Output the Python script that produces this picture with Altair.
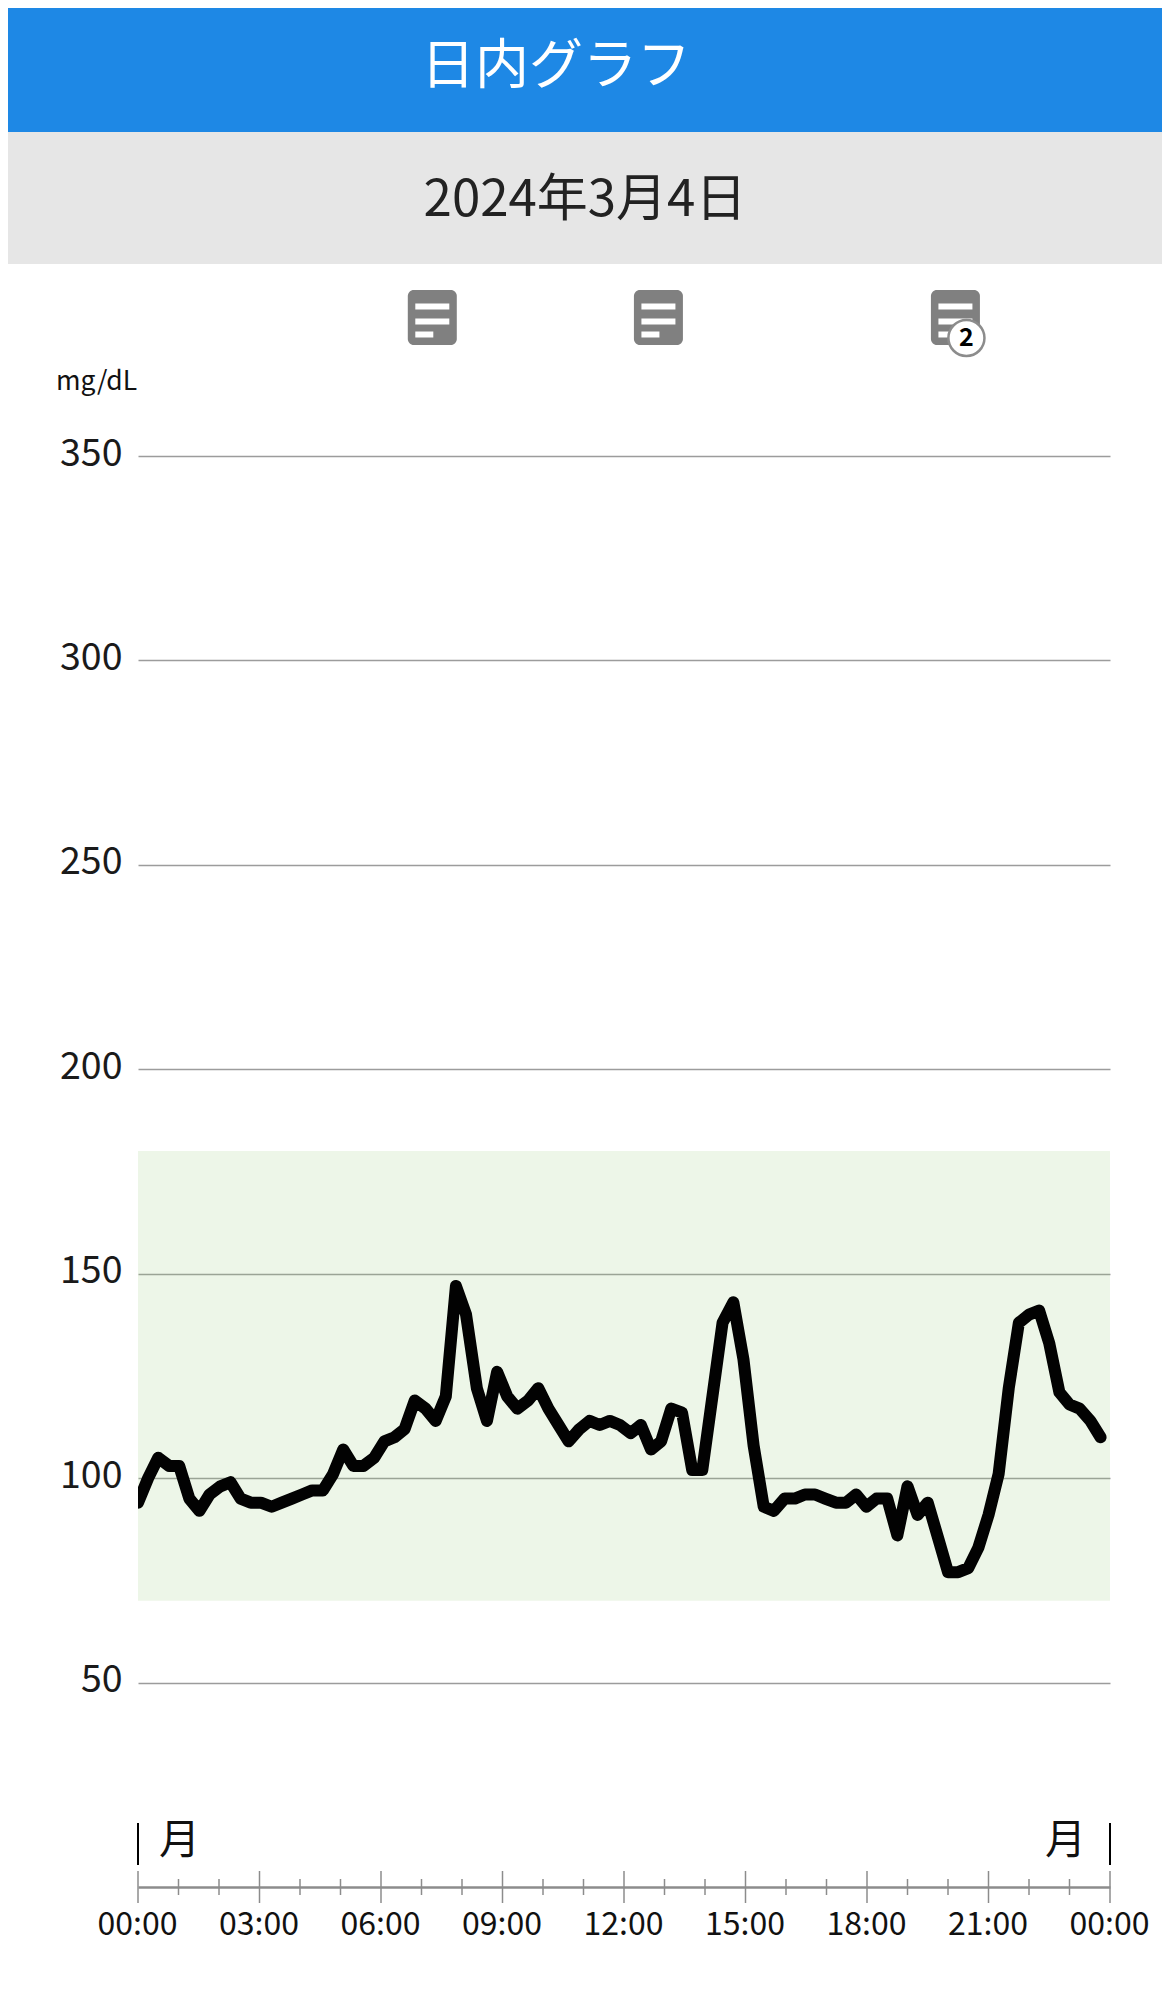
import altair as alt
import pandas as pd

FONT = "Noto Sans CJK JP"

minutes = [0, 15, 30, 46, 61, 76, 91, 106, 122, 137, 152, 167, 182, 198, 213, 228, 243, 258, 274,
           289, 304, 319, 334, 350, 365, 380, 395, 410, 426, 441, 456, 471, 486, 502, 517, 532,
           547, 562, 578, 593, 608, 623, 638, 654, 669, 684, 699, 714, 730, 745, 760, 775, 790,
           806, 821, 836, 851, 866, 882, 897, 912, 927, 942, 958, 973, 988, 1003, 1018, 1034,
           1049, 1064, 1079, 1094, 1110, 1125, 1140, 1155, 1170, 1186, 1200, 1215, 1230, 1245,
           1260, 1275, 1290, 1305, 1320, 1335, 1350, 1365, 1380, 1395, 1411, 1426]
glucose = [94, 100, 105, 103, 103, 95, 92, 96, 98, 99, 95, 94, 94, 93, 94, 95, 96, 97, 97,
           101, 107, 103, 103, 105, 109, 110, 112, 119, 117, 114, 120, 147, 140, 122, 114, 126,
           120, 117, 119, 122, 117, 113, 109, 112, 114, 113, 114, 113, 111, 113, 107, 109, 117,
           116, 102, 102, 120, 138, 143, 129, 108, 93, 92, 95, 95, 96, 96, 95, 94,
           94, 96, 93, 95, 95, 86, 98, 91, 94, 85, 77, 77, 78, 83,
           91, 101, 122, 138, 140, 141, 133, 121, 118, 117, 114, 110]

y_ticks = [50, 100, 150, 200, 250, 300, 350]
x_major = [0, 180, 360, 540, 720, 900, 1080, 1260, 1440]
x_minor = [60, 120, 240, 300, 420, 480, 600, 660, 780, 840, 960, 1020, 1140, 1200, 1320, 1380]
range_low, range_high = 70, 180
note_minutes = [436, 771, 1211]
note_counts = ["", "", "2"]
day_edges = [0, 1440]

W, H = 972, 1431
x_scale = alt.Scale(domain=[0, 1440], nice=False, zero=False)
y_scale = alt.Scale(domain=[0, 350], nice=False)
X = alt.X("m:Q", scale=x_scale, title=None)

line_df = pd.DataFrame({"m": minutes, "v": glucose})
note_df = pd.DataFrame({"m": note_minutes, "n": note_counts})

hour_expr = ("(floor(datum.value/60)%24<10?'0':'')+(floor(datum.value/60)%24)+':00'")

line = alt.Chart(line_df).mark_line(
    color="#020202", strokeWidth=12, strokeJoin="round", strokeCap="round", clip=True, interpolate="linear"
).encode(
    x=alt.X("m:Q", scale=x_scale, title=None, axis=alt.Axis(
        values=x_major, labelExpr=hour_expr, grid=False, ticks=False, domain=True,
        domainColor="#8c8c8c", domainWidth=2.5, labelFont=FONT, labelFontSize=32,
        labelColor="#111111", labelPadding=22, labelOverlap=False, labelFlush=False, labelOffset=-1)),
    y=alt.Y("v:Q", scale=y_scale, title=None, axis=alt.Axis(
        values=y_ticks, grid=True, gridColor="#9c9c9c", gridWidth=1.5, ticks=False, domain=False,
        labelFont=FONT, labelFontSize=37.5, labelColor="#1a1a1a", labelPadding=16, labelOverlap=False,
        labelFlush=False, labelBaseline="middle", labelOffset=-2)),
)

band = alt.Chart(pd.DataFrame({"a": [0], "b": [1440], "lo": [range_low], "hi": [range_high]})).mark_rect(
    color="#9bcd82", opacity=0.18
).encode(x=alt.X("a:Q", scale=x_scale, title=None), x2="b:Q",
         y=alt.Y("lo:Q", scale=y_scale, title=None), y2="hi:Q")


def rules(values, y0, y1, color, width):
    return alt.Chart(pd.DataFrame({"m": values})).mark_rule(color=color, strokeWidth=width).encode(
        x=X, y=alt.value(y0), y2=alt.value(y1))


major_ticks = rules(x_major, H - 16, H + 16, "#8c8c8c", 1.5)
minor_ticks = rules(x_minor, H - 8, H + 8, "#8c8c8c", 1.5)
edge_rules = rules(day_edges, H - 64, H - 22, "#000000", 2)


def header(color, y0, y1):
    return alt.Chart(pd.DataFrame({"c": [color]})).mark_rect(color=color).encode(
        x=alt.value(-130), x2=alt.value(1024), y=alt.value(y0), y2=alt.value(y1))


def label(text, x, y, size, color, align="center", weight=400):
    return alt.Chart(pd.DataFrame({"t": [text]})).mark_text(
        font=FONT, fontSize=size, color=color, align=align, baseline="middle", fontWeight=weight
    ).encode(text="t:N", x=alt.value(x), y=alt.value(y))


icons = alt.Chart(note_df).mark_rect(color="#808080", cornerRadius=6, width=49, height=55).encode(
    x=X, y=alt.value(-138.5))


def icon_bar(yc, w, off):
    return alt.Chart(note_df).mark_rect(color="#ffffff", width=w, height=6, xOffset=off).encode(
        x=X, y=alt.value(yc))


badge = alt.Chart(note_df[note_df.n != ""]).mark_point(
    filled=False, shape="circle", size=1300, fill="#ffffff", stroke="#8c8c8c", strokeWidth=2.5, opacity=1
).encode(x=alt.X("m:Q", scale=x_scale, title=None), xOffset=alt.value(11), y=alt.value(-118))
badge_text = alt.Chart(note_df[note_df.n != ""]).mark_text(
    font=FONT, fontSize=25, fontWeight="bold", color="#000000", dx=11
).encode(x=X, y=alt.value(-118), text="n:N")

chart = alt.layer(
    header("#1e88e5", -448, -324),
    header("#e6e6e6", -324, -192),
    label("日内グラフ", 418, -388, 54, "#ffffff", weight=400),
    label("2024年3月4日", 447, -255, 51, "#222222"),
    icons, icon_bar(-149.5, 34, 0), icon_bar(-134.5, 34, 0), icon_bar(-121.5, 18, -8),
    badge, badge_text,
    label("mg/dL", -82, -74, 26.5, "#111111", align="left"),
    band, line,
    major_ticks, minor_ticks, edge_rules,
    label("月", 21, H - 45, 41, "#111111", align="left"),
    label("月", 948, H - 45, 41, "#111111", align="right"),
).properties(
    width=W, height=H, autosize="none",
    padding={"left": 130, "top": 448, "right": 52, "bottom": 70},
    background="#ffffff",
).configure_view(stroke=None)

chart.save("out.html", embed_options={"renderer": "svg", "actions": False})
